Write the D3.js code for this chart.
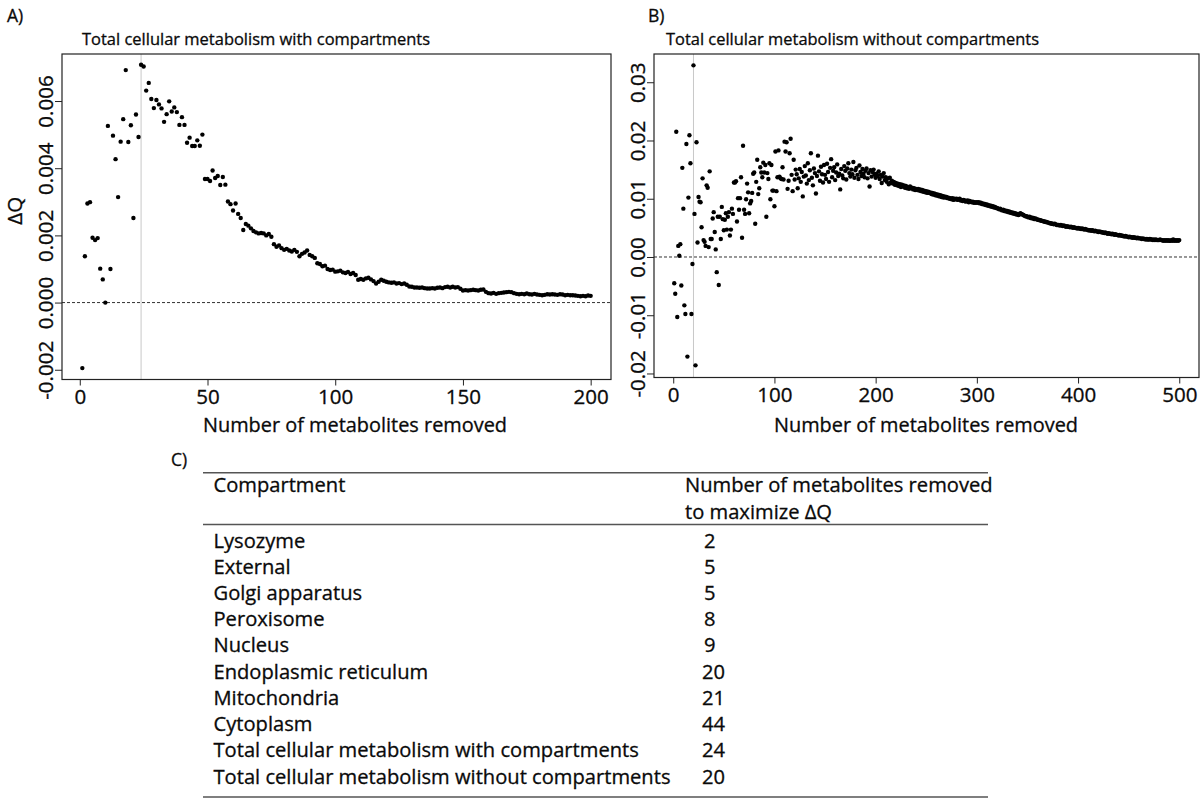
<!DOCTYPE html>
<html><head><meta charset="utf-8">
<script src="https://cdn.jsdelivr.net/npm/d3@7"></script>
<style>html,body{margin:0;padding:0;background:#fff;} svg{display:block;} text{stroke:#0a0a0a;stroke-width:0.3px;}</style>
</head><body>
<svg id="chart" width="1200" height="799"></svg>
<script>
// ΔQ values in units of 0.001, panel A: 1..200 metabolites removed
const dqA = [
 -1.95, 1.38, 2.95, 2.99, 1.93, 1.86, 1.92, 1.01, 0.69, 0.00,
  5.26, 1.00, 4.97, 4.27, 3.14, 4.79, 5.46, 6.92, 4.78, 5.28,
  2.52, 5.60, 4.93, 7.08, 7.03, 6.31, 6.54, 6.06, 5.79, 6.03,
  5.90, 5.78, 5.38, 5.61, 5.99, 5.69, 5.81, 5.67, 5.29, 5.52,
  5.29, 4.76, 4.91, 4.66, 4.66, 4.83, 4.67, 5.00, 3.68, 3.68,
  3.62, 3.93, 3.71, 3.77, 3.50, 3.74, 3.51, 3.01, 2.93, 2.74,
  2.95, 2.64, 2.52, 2.16, 2.34, 2.29, 2.21, 2.13, 2.09, 2.06,
  2.07, 2.06, 2.00, 2.04, 1.96, 1.74, 1.66, 1.70, 1.62, 1.57,
  1.60, 1.55, 1.52, 1.57, 1.51, 1.38, 1.45, 1.49, 1.55, 1.42,
  1.38, 1.33, 1.17, 1.15, 1.08, 1.10, 1.00, 0.97, 0.98, 0.92,
  0.93, 0.95, 0.90, 0.88, 0.91, 0.85, 0.88, 0.82, 0.68, 0.70,
  0.68, 0.72, 0.74, 0.69, 0.64, 0.57, 0.62, 0.68, 0.65, 0.62,
  0.60, 0.59, 0.60, 0.57, 0.58, 0.55, 0.57, 0.53, 0.48, 0.47,
  0.45, 0.45, 0.44, 0.45, 0.43, 0.42, 0.42, 0.43, 0.42, 0.44,
  0.45, 0.43, 0.46, 0.47, 0.45, 0.47, 0.45, 0.46, 0.41, 0.36,
  0.37, 0.36, 0.37, 0.38, 0.37, 0.36, 0.38, 0.39, 0.32, 0.28,
  0.27, 0.29, 0.26, 0.28, 0.29, 0.30, 0.31, 0.32, 0.31, 0.28,
  0.26, 0.25, 0.26, 0.25, 0.27, 0.25, 0.24, 0.26, 0.24, 0.23,
  0.22, 0.23, 0.25, 0.24, 0.25, 0.24, 0.23, 0.25, 0.24, 0.22,
  0.23, 0.22, 0.22, 0.21, 0.20, 0.19, 0.20, 0.19, 0.21, 0.20
];
// ΔQ values in units of 0.001, panel B: 1..500 metabolites removed
const dqB = [
 -4.5, -6.3, 21.5, -10.3, 1.9, 0.2, 2.2, -4.9, 15.3, 8.3,
 -8.3, -9.8, 19.4, -17.1, 10.2, 20.9, 16.1, -9.8, -1.2, 32.9,
  7.4, -18.6, 19.7, 2.5, 10.3, 9.5, 9.4, 5.1, 13.5, 2.9,
  2.6, 1.9, 12.3, 11.9, 1.7, 14.7, 3.1, 3.1, 6.6, 7.7,
  4.3, 1.3, -2.6, 6.9, -4.8, 6.9, 3.1, 8.6, 6.5, 4.6,
  6.4, 7.5, 4.7, 6.9, 7.7, 3.7, 4.7, 8.3, 7.4, 12.8,
  12.8, 13.0, 6.1, 10.1, 8.1, 10.1, 13.7, 3.3, 19.1, 8.1,
  7.4, 9.9, 12.6, 11.1, 7.5, 9.2, 9.6, 11.0, 14.3, 14.5,
  5.7, 12.9, 16.7, 10.8, 11.8, 15.4, 14.5, 13.7, 16.2, 14.5,
  15.8, 6.9, 14.4, 13.4, 16.1, 9.9, 15.8, 11.4, 11.4, 8.7,
  18.1, 11.3, 13.7, 18.3, 13.8, 13.5, 13.4, 15.4, 13.3, 19.8,
  18.1, 19.7, 11.7, 13.1, 17.8, 20.3, 14.1, 11.3, 16.7, 13.3,
  15.0, 14.2, 11.8, 13.5, 15.1, 12.9, 14.6, 10.4, 13.8, 15.6,
  14.0, 12.6, 16.1, 13.2, 14.9, 17.8, 13.6, 12.3, 15.2, 14.4,
  10.9, 13.9, 17.4, 14.7, 13.1, 15.5, 14.2, 12.8, 15.8, 14.1,
  13.4, 16.0, 14.6, 12.9, 15.3, 16.8, 13.7, 14.8, 15.4, 13.2,
  14.5, 15.9, 13.9, 14.3, 11.6, 15.1, 14.0, 13.5, 15.6, 14.8,
  13.3, 15.2, 16.1, 14.4, 13.8, 15.0, 14.2, 16.3, 13.6, 14.9,
  15.3, 14.1, 13.4, 15.7, 14.6, 13.9, 15.1, 14.3, 13.7, 14.8,
  15.2, 13.5, 14.4, 12.1, 14.9, 13.8, 14.6, 15.0, 14.2, 13.6,
  14.3, 13.9, 14.7, 13.4, 14.1, 12.7, 13.8, 14.4, 13.2, 13.7,
  12.9, 13.5, 12.5, 13.6, 12.8, 13.1, 12.6, 12.9, 12.4, 12.7,
  12.3, 12.6, 12.2, 12.5, 12.0, 12.4, 12.1, 12.3, 11.9, 12.2,
  11.8, 12.0, 11.7, 12.1, 11.8, 11.9, 11.6, 11.8, 11.5, 11.7,
  11.5, 11.7, 11.4, 11.6, 11.3, 11.5, 11.2, 11.4, 11.1, 11.3,
  11.0, 11.2, 11.0, 11.1, 10.8, 11.0, 10.7, 10.9, 10.6, 10.8,
  10.5, 10.7, 10.4, 10.6, 10.3, 10.5, 10.2, 10.4, 10.2, 10.3,
  10.1, 10.2, 10.0, 10.1, 9.9, 10.1, 9.8, 10.0, 9.9, 10.0,
  9.8, 9.9, 10.0, 9.7, 9.8, 9.6, 9.8, 9.7, 9.5, 9.6,
  9.7, 9.4, 9.6, 9.5, 9.4, 9.5, 9.3, 9.4, 9.3, 9.4,
  9.3, 9.4, 9.2, 9.3, 9.1, 9.2, 9.0, 9.1, 8.9, 9.0,
  8.8, 8.9, 8.7, 8.8, 8.6, 8.7, 8.5, 8.6, 8.4, 8.4,
  8.3, 8.2, 8.3, 8.1, 8.0, 8.1, 7.9, 8.0, 7.8, 7.9,
  7.7, 7.8, 7.6, 7.7, 7.5, 7.6, 7.4, 7.5, 7.3, 7.4,
  7.2, 7.3, 7.5, 7.4, 7.3, 7.2, 7.1, 7.0, 7.0, 6.9,
  6.8, 6.9, 6.7, 6.8, 6.6, 6.7, 6.5, 6.6, 6.5, 6.4,
  6.4, 6.3, 6.3, 6.2, 6.2, 6.1, 6.1, 6.0, 6.0, 5.9,
  5.9, 5.8, 5.8, 5.7, 5.7, 5.6, 5.7, 5.6, 5.5, 5.5,
  5.5, 5.4, 5.5, 5.4, 5.3, 5.4, 5.3, 5.2, 5.3, 5.2,
  5.2, 5.1, 5.2, 5.1, 5.0, 5.1, 5.0, 5.0, 4.9, 5.0,
  4.9, 4.9, 4.8, 4.9, 4.8, 4.7, 4.8, 4.7, 4.7, 4.6,
  4.6, 4.6, 4.5, 4.6, 4.5, 4.4, 4.5, 4.4, 4.4, 4.3,
  4.4, 4.3, 4.3, 4.2, 4.2, 4.1, 4.2, 4.1, 4.0, 4.1,
  4.0, 4.0, 3.9, 4.0, 3.9, 3.8, 3.9, 3.8, 3.8, 3.7,
  3.8, 3.7, 3.7, 3.6, 3.6, 3.5, 3.6, 3.5, 3.5, 3.4,
  3.5, 3.4, 3.4, 3.3, 3.4, 3.3, 3.3, 3.2, 3.3, 3.2,
  3.2, 3.2, 3.1, 3.2, 3.1, 3.1, 3.0, 3.1, 3.0, 3.0,
  3.1, 3.0, 3.0, 2.9, 3.0, 2.9, 3.0, 2.9, 2.9, 2.9,
  3.0, 2.9, 2.9, 2.8, 2.9, 2.8, 2.9, 2.8, 2.9, 2.8,
  2.8, 2.9, 2.8, 3.0, 2.8, 2.9, 2.8, 2.9, 2.8, 2.9
];
const xTicksA = [0, 50, 100, 150, 200];
const xTicksB = [0, 100, 200, 300, 400, 500];
const yTicksA = [-2, 0, 2, 4, 6];
const yTickLabelsA = ["-0.002", "0.000", "0.002", "0.004", "0.006"];
const yTicksB = [-20, -10, 0, 10, 20, 30];
const yTickLabelsB = ["-0.02", "-0.01", "0.00", "0.01", "0.02", "0.03"];
const titleA = "Total cellular metabolism with compartments";
const titleB = "Total cellular metabolism without compartments";
const xAxisTitle = "Number of metabolites removed";
const yAxisTitle = "\u0394Q";
const peakA = 24, peakB = 20;
const tableHeader = ["Compartment", "Number of metabolites removed", "to maximize \u0394Q"];
const compartments = ["Lysozyme", "External", "Golgi apparatus", "Peroxisome", "Nucleus",
  "Endoplasmic reticulum", "Mitochondria", "Cytoplasm",
  "Total cellular metabolism with compartments", "Total cellular metabolism without compartments"];
const removedToMax = [2, 5, 5, 8, 9, 20, 21, 44, 24, 20];

const FONT = "'Open Sans','Noto Sans',sans-serif";
const INK = "#0a0a0a";
const TABLE_FS = 19.6;
const svg = d3.select("#chart");

// horizontal condensing factor to mimic the narrow original typeface
const probe = svg.append("text").attr("font-family", FONT).attr("font-size", TABLE_FS)
  .text(compartments[compartments.length - 1]);
const CF = 457 / probe.node().getComputedTextLength();
probe.remove();
function condense(sel, f) {
  sel.each(function () {
    const L = this.getComputedTextLength();
    if (L > 0) d3.select(this).attr("textLength", L * (f || CF)).attr("lengthAdjust", "spacingAndGlyphs");
  });
}
function fitWidth(sel, w) {
  sel.attr("textLength", w).attr("lengthAdjust", "spacingAndGlyphs");
}

function drawPanel(cfg) {
  const g = svg.append("g");
  const x = d3.scaleLinear().domain(cfg.xDomain).range(cfg.xRange);
  const y = d3.scaleLinear().domain(cfg.yDomain).range(cfg.yRange);
  const [x0, x1] = cfg.xRange, [yb, yt] = cfg.yRange;

  // peak marker line
  g.append("line").attr("x1", x(cfg.peak)).attr("x2", x(cfg.peak))
    .attr("y1", yt).attr("y2", yb).attr("stroke", "#c8c8c8").attr("stroke-width", 1);
  // zero line
  g.append("line").attr("x1", x0).attr("x2", x1).attr("y1", y(0)).attr("y2", y(0))
    .attr("stroke", "#333").attr("stroke-width", 1).attr("stroke-dasharray", "3,2");

  // points
  g.append("g").selectAll("circle").data(cfg.values).join("circle")
    .attr("cx", (d, i) => x(i + 1)).attr("cy", d => y(d)).attr("r", 2.2).attr("fill", "#000");

  // box
  g.append("rect").attr("x", x0).attr("y", yt).attr("width", x1 - x0).attr("height", yb - yt)
    .attr("fill", "none").attr("stroke", "#222").attr("stroke-width", 1.2);

  // x axis
  const ax = g.append("g").attr("transform", `translate(0,${yb})`)
    .call(d3.axisBottom(x).tickValues(cfg.xTicks).tickSize(6).tickPadding(4).tickFormat(d3.format("d")));
  ax.select(".domain").remove();
  ax.selectAll("line").attr("stroke", "#222");
  ax.selectAll("text").attr("font-family", FONT).attr("font-size", 20).attr("fill", INK);
  condense(ax.selectAll("text"));

  // y axis
  const ay = g.append("g").attr("transform", `translate(${x0},0)`)
    .call(d3.axisLeft(y).tickValues(cfg.yTicks).tickSize(7).tickFormat((d, i) => cfg.yLabels[i]));
  ay.select(".domain").remove();
  ay.selectAll("line").attr("stroke", "#222");
  ay.selectAll("text").attr("font-family", FONT).attr("font-size", 20).attr("fill", INK)
    .attr("transform", "rotate(-90)").attr("x", 0).attr("y", -9.5).attr("dy", 0)
    .attr("text-anchor", "middle");
  condense(ay.selectAll("text"));

  // title
  const t = g.append("text").attr("x", cfg.titleX).attr("y", 44.5).attr("font-family", FONT)
    .attr("font-size", 15.8).attr("fill", INK).text(cfg.title);
  fitWidth(t, cfg.titleW);
  // panel letter
  g.append("text").attr("x", cfg.letterX).attr("y", 21.5).attr("font-family", FONT)
    .attr("font-size", 17.5).attr("fill", INK).text(cfg.letter);
  // x axis title
  const xt = g.append("text").attr("x", cfg.xTitleX).attr("y", 432).attr("font-family", FONT)
    .attr("font-size", 19.5).attr("fill", INK).text(xAxisTitle);
  fitWidth(xt, 304);
  if (cfg.yTitle) {
    g.append("text").attr("transform", `translate(21.5,${(yt + yb) / 2 - 6}) rotate(-90)`)
      .attr("text-anchor", "middle").attr("font-family", FONT).attr("font-size", 20.5)
      .attr("fill", INK).text(cfg.yTitle);
  }
}

drawPanel({
  values: dqA, xDomain: [-6.96, 207.96], xRange: [62, 611], yDomain: [-2.29, 7.40], yRange: [379.5, 54],
  xTicks: xTicksA, yTicks: yTicksA, yLabels: yTickLabelsA, peak: peakA,
  title: titleA, titleX: 82, titleW: 348, letter: "A)", letterX: 7, xTitleX: 203, yTitle: yAxisTitle
});
drawPanel({
  values: dqB, xDomain: [-19, 519.5], xRange: [654, 1199], yDomain: [-20.69, 34.85], yRange: [377.5, 54],
  xTicks: xTicksB, yTicks: yTicksB, yLabels: yTickLabelsB, peak: peakB,
  title: titleB, titleX: 666, titleW: 373, letter: "B)", letterX: 648, xTitleX: 774, yTitle: null
});

// Table C
const tg = svg.append("g");
const rowY = d3.scalePoint().domain(compartments).range([547.5, 783.7]);
tg.append("text").attr("x", 171).attr("y", 465.5).attr("font-family", FONT)
  .attr("font-size", 17.5).attr("fill", INK).text("C)");
[472.7, 524.5, 797].forEach(yy => {
  tg.append("line").attr("x1", 203).attr("x2", 988).attr("y1", yy).attr("y2", yy)
    .attr("stroke", "#555").attr("stroke-width", 1.6);
});
const hdr = tg.append("g").attr("font-family", FONT).attr("font-size", TABLE_FS).attr("fill", INK);
hdr.append("text").attr("x", 213.5).attr("y", 492).text(tableHeader[0]);
hdr.append("text").attr("x", 685).attr("y", 492).text(tableHeader[1]);
hdr.append("text").attr("x", 685).attr("y", 518.5).text(tableHeader[2]);
condense(hdr.selectAll("text"));
const rows = tg.append("g").attr("font-family", FONT).attr("font-size", TABLE_FS).attr("fill", INK);
rows.selectAll("text.name").data(compartments).join("text").attr("class", "name")
  .attr("x", 213.5).attr("y", d => rowY(d)).text(d => d);
rows.selectAll("text.num").data(removedToMax).join("text").attr("class", "num")
  .attr("x", (d) => d < 10 ? 704 : 702).attr("y", (d, i) => rowY(compartments[i])).text(d => d);
condense(rows.selectAll("text"));
</script>
</body></html>
